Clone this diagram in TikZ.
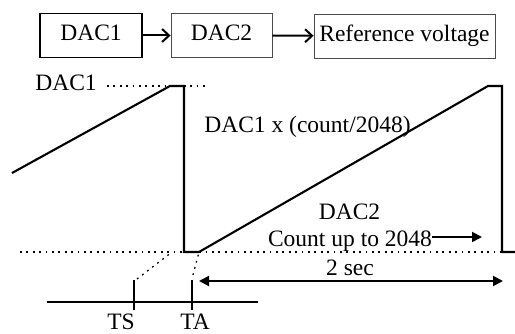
\documentclass[tikz,border=0pt]{standalone}
\usepackage{fontspec}
\setmainfont{Liberation Serif}
\usetikzlibrary{arrows.meta}

\tikzset{
  blk/.style={draw,inner sep=0pt,text height=16pt,text depth=5pt},
  lbl/.style={inner sep=0pt,anchor=base},
  wave/.style={line width=2.1pt,line join=miter},
  dots/.style={line width=1.8pt,dash pattern=on 1.8pt off 4.6pt},
  tip/.style={-{Triangle[length=10pt,width=10pt]}}
}

\begin{document}
\begin{tikzpicture}[x=1pt,y=-1pt,font=\fontsize{23.5}{28}\selectfont]
\useasboundingbox (0,0) rectangle (515,334);
%blocks
\node[blk,line width=1.6pt,minimum width=102pt,minimum height=44pt] (dacA) at (91,35.5) {DAC1};
\node[blk,black!70,text=black,line width=0.9pt,minimum width=101pt,minimum height=44pt] (dacB) at (221.5,35.5) {DAC2};
\node[blk,black!70,text=black,line width=0.9pt,minimum width=181pt,minimum height=44pt] (vref) at (404.5,36) {Reference voltage};
\draw[line width=2pt,-{Straight Barb[length=7pt,width=13pt,line width=2pt]}] (dacA) -- (dacB);
\draw[line width=2pt,-{Straight Barb[length=7pt,width=13pt,line width=2pt]}] (dacB) -- (vref);
%waveform
\draw[wave] (12,173) -- (170,86) -- (184,86) -- (184,252) -- (199,252) -- (488,86) -- (502,86) -- (502,252) -- (515,252);
\draw[dots] (107,86) -- (207,86);
\draw[dots] (20,252) -- (515,252);
%labels
\node[lbl] (top) at (66,91) {DAC1};
\node[lbl] (gain) at (307.5,133) {DAC1 x (count/2048)};
\node[lbl] (dac2) at (349.5,220) {DAC2};
\node[lbl] (cnt) at (350,247) {Count up to 2048};
\coordinate (cntend) at (482,237);
\draw[line width=1.8pt,tip] (cnt.east |- cntend) -- (cntend);
%period
\coordinate (pa) at (199,281);
\coordinate (pb) at (503,281);
\draw[line width=2pt,{Triangle[length=10pt,width=10pt]}-{Triangle[length=10pt,width=10pt]}] (pa) -- (pb);
\node[lbl] (per) at (350,276) {2 sec};
%time axis
\coordinate (ts) at (134,280);
\coordinate (ta) at (192,280);
\draw[line width=2pt] (47,302) -- (258,302);
\draw[line width=2pt] (ts) -- ++(0,30);
\draw[line width=2pt] (ta) -- ++(0,30);
\draw[dots,line width=1.3pt] ([shift={(3,-1)}]ts) -- (172,252);
\draw[dots,line width=1.3pt] ([shift={(1,-5)}]ta) -- (199,252);
\node[lbl] (tslbl) at (121,330) {TS};
\node[lbl] (talbl) at (195,330) {TA};
\end{tikzpicture}
\end{document}
